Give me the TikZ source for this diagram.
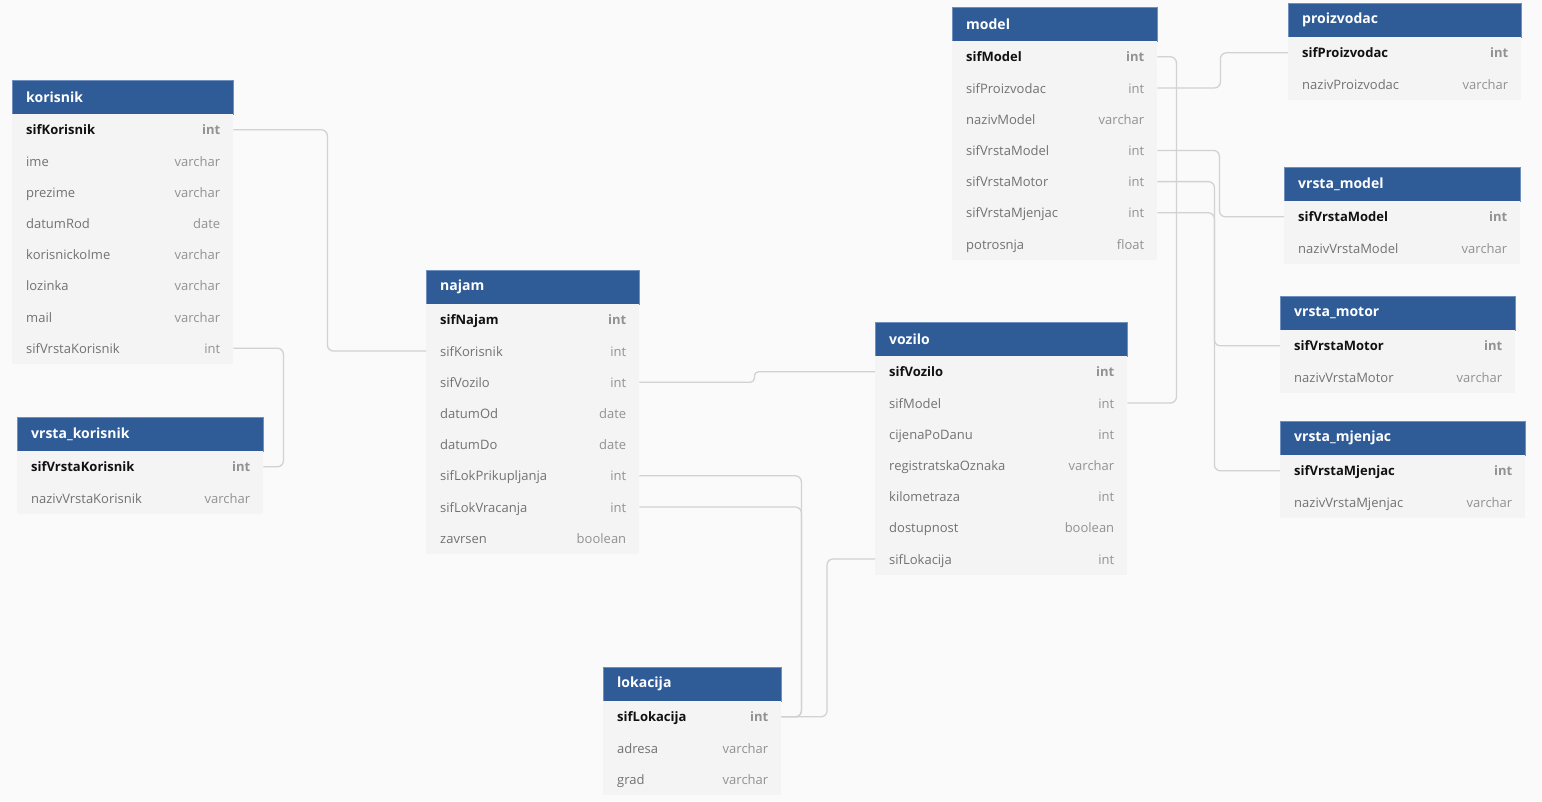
\documentclass[tikz,border=0pt]{standalone}
\usepackage{fontspec}
\setmainfont{Open Sans}
\definecolor{bg}{HTML}{FAFAFA}
\definecolor{body}{HTML}{F4F4F4}
\definecolor{hdrblue}{HTML}{2F5B97}
\definecolor{hdredge}{HTML}{6F8FBF}
\definecolor{fieldtxt}{HTML}{727272}
\definecolor{typetxt}{HTML}{929292}
\definecolor{pktxt}{HTML}{111111}
\definecolor{conncol}{HTML}{D2D2D2}
\tikzset{
  hdr/.style={fill=hdrblue, draw=hdredge, line width=0.5pt, anchor=north west, inner sep=0pt, minimum height=34pt},
  hdrtext/.style={anchor=west, inner sep=0pt, text=white, font=\fontsize{14}{16}\selectfont\bfseries},
  rowbox/.style={fill=body, anchor=north west, inner sep=0pt, minimum height=31.2pt},
  fname/.style={anchor=west, inner sep=0pt, yshift=-1.6pt, text=fieldtxt, font=\fontsize{13}{15}\selectfont, text height=9.5pt, text depth=2.7pt},
  ftype/.style={anchor=east, inner sep=0pt, yshift=-1.6pt, text=typetxt, font=\fontsize{13}{15}\selectfont, text height=9.5pt, text depth=2.7pt},
  pkname/.style={fname, text=pktxt, font=\fontsize{13}{15}\selectfont\bfseries},
  pktype/.style={ftype, font=\fontsize{13}{15}\selectfont\bfseries},
  conn/.style={draw=conncol, line width=1.3pt, rounded corners=6pt}
}
\newcommand\erTable[6]{%
  \node[hdr, minimum width=#4pt] (#1) at (#2,#3) {};
  \node[hdrtext] (#1-t) at ([xshift=14pt]#1.west) {#5};
  \foreach \f/\t [count=\i] in {#6}{%
    \node[rowbox, minimum width=#4pt] (#1-\i) at (#2,{#3+34+(\i-1)*31.2}) {};
    \ifnum\i=1
      \node[pkname] (#1-\i-n) at ([xshift=14pt]#1-\i.west) {\f};
      \node[pktype] (#1-\i-y) at ([xshift=-13pt]#1-\i.east) {\t};
    \else
      \node[fname] (#1-\i-n) at ([xshift=14pt]#1-\i.west) {\f};
      \node[ftype] (#1-\i-y) at ([xshift=-13pt]#1-\i.east) {\t};
    \fi
  }%
}
\begin{document}
\begin{tikzpicture}[x=1pt,y=-1pt]
\fill[bg] (0,0) rectangle (1542,801);
\useasboundingbox (0,0) rectangle (1542,801);

\erTable{korisnik}{12}{80}{221}{korisnik}{sifKorisnik/int, ime/varchar, prezime/varchar, datumRod/date, korisnickoIme/varchar, lozinka/varchar, mail/varchar, sifVrstaKorisnik/int}
\erTable{vrstaKorisnik}{17}{417}{246}{vrsta\_korisnik}{sifVrstaKorisnik/int, nazivVrstaKorisnik/varchar}
\erTable{najam}{426}{270}{213}{najam}{sifNajam/int, sifKorisnik/int, sifVozilo/int, datumOd/date, datumDo/date, sifLokPrikupljanja/int, sifLokVracanja/int, zavrsen/boolean}
\erTable{vozilo}{875}{322}{252}{vozilo}{sifVozilo/int, sifModel/int, cijenaPoDanu/int, registratskaOznaka/varchar, kilometraza/int, dostupnost/boolean, sifLokacija/int}
\erTable{lokacija}{603}{667}{178}{lokacija}{sifLokacija/int, adresa/varchar, grad/varchar}
\erTable{model}{952}{7}{205}{model}{sifModel/int, sifProizvodac/int, nazivModel/varchar, sifVrstaModel/int, sifVrstaMotor/int, sifVrstaMjenjac/int, potrosnja/float}
\erTable{proizvodac}{1288}{3}{233}{proizvodac}{sifProizvodac/int, nazivProizvodac/varchar}
\erTable{vrstaModel}{1284}{167}{236}{vrsta\_model}{sifVrstaModel/int, nazivVrstaModel/varchar}
\erTable{vrstaMotor}{1280}{296}{235}{vrsta\_motor}{sifVrstaMotor/int, nazivVrstaMotor/varchar}
\erTable{vrstaMjenjac}{1280}{421}{245}{vrsta\_mjenjac}{sifVrstaMjenjac/int, nazivVrstaMjenjac/varchar}

\draw[conn] (korisnik-1.east) -- ++(94,0) |- (najam-2.west);
\draw[conn] (korisnik-8.east) -- ++(50,0) |- (vrstaKorisnik-1.east);
\draw[conn, rounded corners=4pt] (najam-3.east) -- ++(115,0) |- (vozilo-1.west);
\draw[conn] (najam-6.east) -- ++(162,0) |- (lokacija-1.east);
\draw[conn] (najam-7.east) -- ++(162,0) |- (lokacija-1.east);
\draw[conn] (vozilo-7.west) -- ++(-48,0) |- (lokacija-1.east);
\draw[conn] (model-1.east) -- ++(19,0) |- (vozilo-2.east);
\draw[conn] (model-2.east) -- ++(63,0) |- (proizvodac-1.west);
\draw[conn] (model-4.east) -- ++(62,0) |- (vrstaModel-1.west);
\draw[conn] (model-5.east) -- ++(57,0) |- (vrstaMotor-1.west);
\draw[conn] (model-6.east) -- ++(57,0) |- (vrstaMjenjac-1.west);
\end{tikzpicture}
\end{document}
